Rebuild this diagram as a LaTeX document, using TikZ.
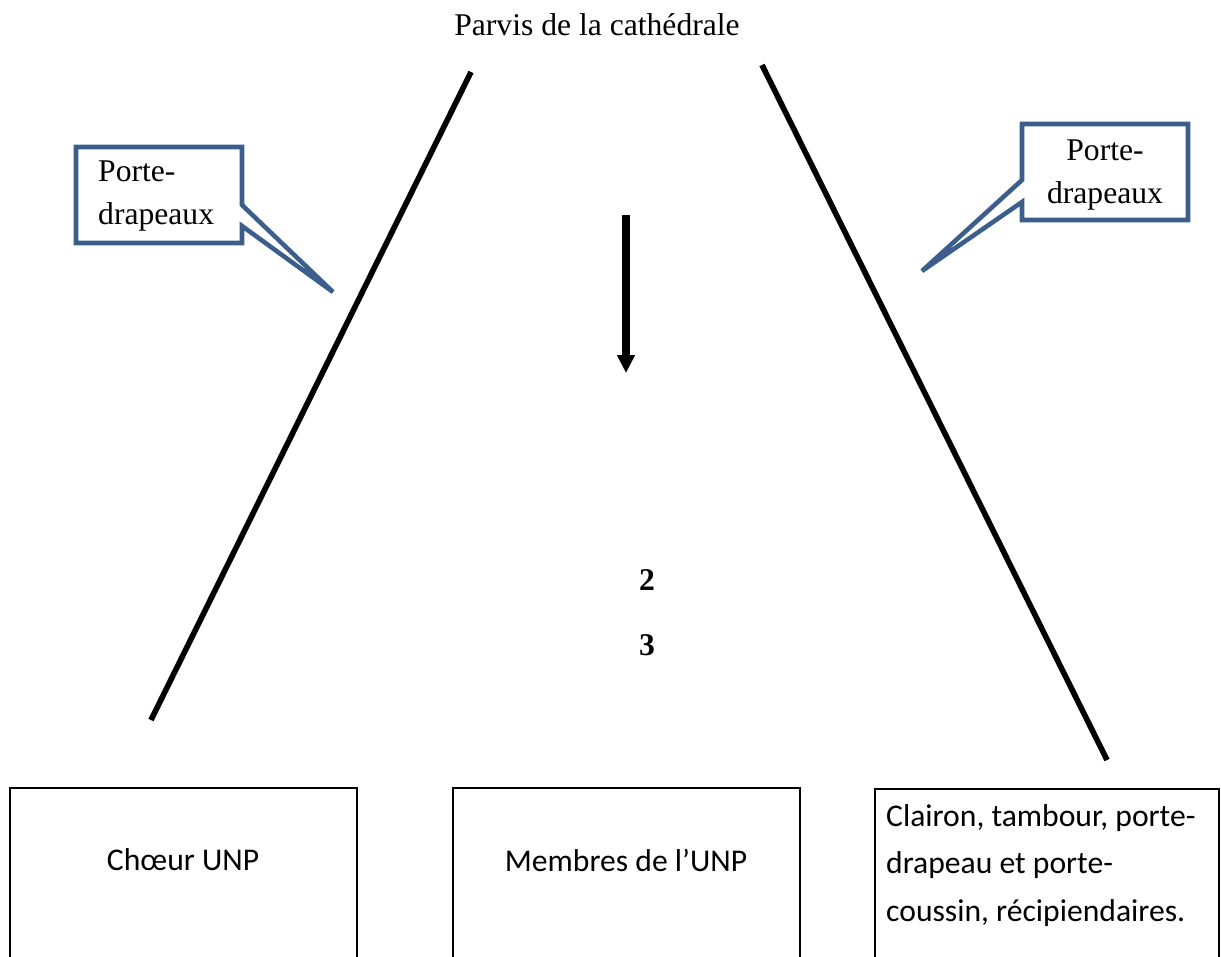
\documentclass[tikz,border=0pt]{standalone}
\usepackage{fontspec}
\setmainfont{Liberation Serif}
\newfontfamily\calibri{Carlito}
\usetikzlibrary{arrows.meta}
\definecolor{calloutblue}{RGB}{59,94,140}

\begin{document}
\begin{tikzpicture}[x=0.02cm,y=-0.02cm,
    bigline/.style={line width=3.2pt},
    callout/.style={draw=calloutblue,line width=2.6pt,fill=white},
    groupbox/.style={draw=black,line width=0.8pt},
    serif/.style={font=\fontsize{18}{24}\selectfont},
    sans/.style={font=\calibri\fontsize{18}{27}\selectfont}]
            \useasboundingbox (0,0) rectangle (1221,957);

            \coordinate (A) at (471,72);
            \coordinate (B) at (151,720);
            \coordinate (C) at (762,65);
            \coordinate (D) at (1107,760);

            \node[serif] (parvis) at (597,25) {Parvis de la cathédrale};

            \draw[bigline] (A) -- (B);
            \draw[bigline] (C) -- (D);

            % bulles porte-drapeaux
            \draw[callout] (76,147) -- (242,147) -- (242,205) -- (333,292) -- (242,226) -- (242,243) -- (76,243) -- cycle;
            \draw[callout] (1022,124) -- (1188,124) -- (1188,220) -- (1022,220) -- (1022,202) -- (922,271) -- (1022,180) -- cycle;
            \node[serif,anchor=west,align=left] (pdgauche) at (92,196) {Porte-\\drapeaux};
            \node[serif,align=center] (pddroite) at (1105,175) {Porte-\\drapeaux};

            \coordinate (E) at (626,215);
            \coordinate (F) at (626,373);
            \draw[line width=4pt,-{Triangle[length=0.36cm,width=0.34cm]}] (E) -- (F);

            \node[serif,font=\bfseries\fontsize{18}{24}\selectfont] (deux) at (647,580) {2};
            \node[serif,font=\bfseries\fontsize{18}{24}\selectfont] (trois) at (647,645) {3};

            % les trois groupes
            \draw[groupbox] (10,960) -- (10,788) -- (357,788) -- (357,960);
            \draw[groupbox] (453,960) -- (453,788) -- (800,788) -- (800,960);
            \draw[groupbox] (875,960) -- (875,789) -- (1219,789) -- (1219,960);
            \node[sans] (choeur) at (183,860) {Chœur UNP};
            \node[sans] (membres) at (626,860) {Membres de l’UNP};
            \node[sans,anchor=north west,align=left] (clairon) at (880,798) {Clairon, tambour, porte-\\drapeau et porte-\\coussin, récipiendaires.};
\end{tikzpicture}
\end{document}
